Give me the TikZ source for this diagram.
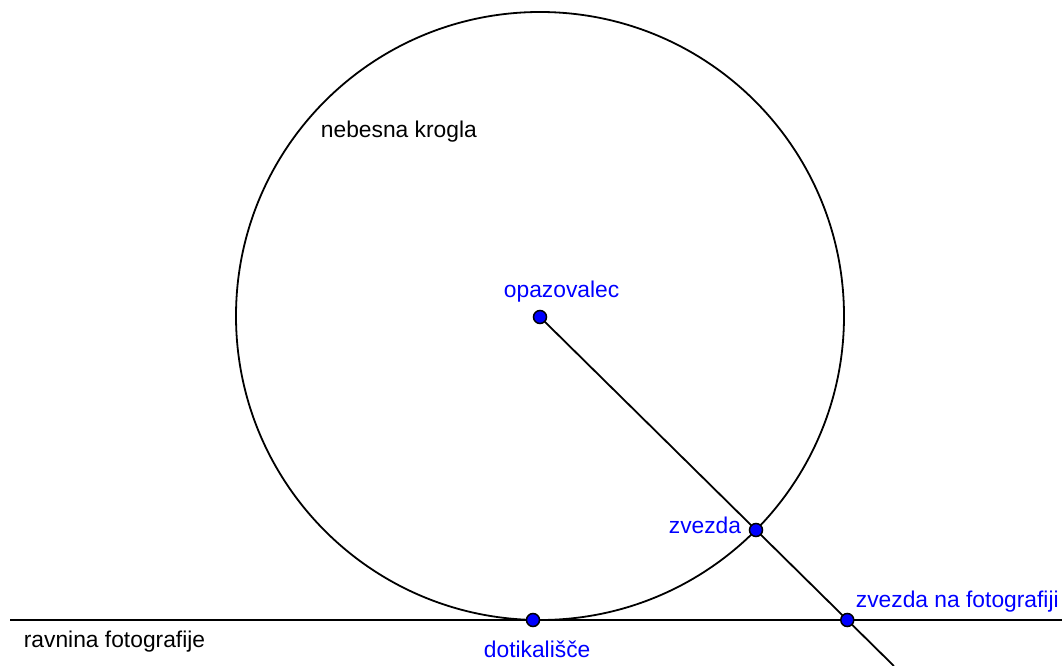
\documentclass[tikz,border=0pt]{standalone}
\usepackage{fontspec}
\setmainfont{Liberation Sans}
\usepackage{xcolor}
\usepackage{tikz}
\usetikzlibrary{calc}

\begin{document}
\begin{tikzpicture}[x=1pt, y=-1pt, line width=1.8pt,
  pt/.style={circle, draw=black, fill=blue, line width=1.5pt, inner sep=0pt, minimum size=13pt},
  lbl/.style={font=\fontsize{22.8}{27}\selectfont, inner sep=0pt, anchor=base west},
  blbl/.style={lbl, text=blue}]
  \useasboundingbox (0,0) rectangle (1062,666);
  \def\rad{304}
  % points
  \coordinate (obs) at (540,317);
  \coordinate (star) at (756,530);
  \coordinate (touch) at (533,620);
  \coordinate (starimg) at ($(obs)!1.4225!(star)$);
  \coordinate (planeL) at (10,620);
  \coordinate (planeR) at (1062,620);
  \coordinate (rayend) at ($(obs)!1.6385!(star)$);
  % sphere, plane and ray
  \draw (540,316) circle (\rad);
  \draw (planeL) -- (planeR);
  \draw (obs) -- (rayend);
  \node[pt] (obsP) at (obs) {};
  \node[pt] (starP) at (star) {};
  \node[pt] (touchP) at (touch) {};
  \node[pt] (starimgP) at (starimg) {};
  % labels
  \node[lbl] (sphere) at (320,138) {nebesna krogla};
  \node[lbl] (plane) at (23,647) {ravnina fotografije};
  \node[blbl] (obsL) at (503,297) {opazovalec};
  \node[blbl, anchor=base east] (starL) at (742,533) {zvezda};
  \node[blbl] (touchL) at (483,657) {dotikališče};
  \node[blbl] (starimgL) at (855,607) {zvezda na fotografiji};
\end{tikzpicture}
\end{document}
